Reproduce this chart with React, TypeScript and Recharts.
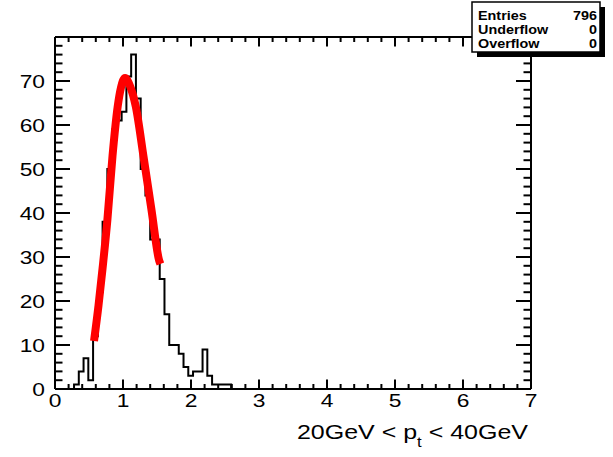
import React from "react";
import { LineChart, Line, XAxis, YAxis } from "recharts";

// histogram: 100 bins on [0, 7], only the filled range is listed
const binStart = 0.28;
const binWidth = 0.07;
const counts = [1, 4, 7, 2, 12, 22, 38, 50, 59, 61, 63, 71, 76, 66, 50, 44, 34, 34, 25, 17, 10, 10, 8, 5, 3, 4, 4, 9, 3, 1, 1, 1, 1];

// fitted curve
const fitX = [0.574, 0.64, 0.7, 0.77, 0.846, 0.922, 0.97, 1.03, 1.1, 1.188, 1.3, 1.42, 1.53, 1.55];
const fitY = [10.9, 19, 27.5, 38.4, 53, 64.2, 68.5, 70.7, 69, 64.2, 53, 40.6, 29.3, 28.4];

const xMajor = [0, 1, 2, 3, 4, 5, 6, 7];
const yMajor = [0, 10, 20, 30, 40, 50, 60, 70];

const statsRows = [
    ["Entries", "796"],
    ["Underflow", "0"],
    ["Overflow", "0"],
];

const W = 613;
const H = 457;
const FONT = "'Liberation Sans', Arial, Helvetica, sans-serif";
const SX = 1.2;

const xTicks: number[] = [];
for (let i = 0; i <= 35; i++) xTicks.push(+(i * 0.2).toFixed(2));
const yTicks: number[] = [];
for (let i = 0; i <= 39; i++) yTicks.push(i * 2);

const histData = [
    { x: 0, y: 0 },
    ...counts.map((c, i) => ({ x: +(binStart + i * binWidth).toFixed(2), y: c })),
    { x: +(binStart + counts.length * binWidth).toFixed(2), y: 0 },
    { x: 7, y: 0 },
];
const fitData = fitX.map((x, i) => ({ x, y: fitY[i] }));

const isMajor = (v: number, list: number[]) => list.some(m => Math.abs(m - v) < 1e-6);

const BottomTick = (props: any) => {
    const { x, y, payload } = props;
    const major = isMajor(payload.value, xMajor);
    return (
        <g>
            <line x1={x} x2={x} y1={y} y2={y - (major ? 9.5 : 5)} stroke="#000" strokeWidth={2} />
            {major && (
                <text transform={`translate(${x},${y + 5}) scale(${SX},1)`} textAnchor="middle" dy="0.71em"
                    fontSize={19} fontFamily={FONT} fill="#000">
                    {payload.value}
                </text>
            )}
        </g>
    );
};

const TopTick = (props: any) => {
    const { x, y, payload } = props;
    const major = isMajor(payload.value, xMajor);
    return <line x1={x} x2={x} y1={y} y2={y + (major ? 9.5 : 5)} stroke="#000" strokeWidth={2} />;
};

const LeftTick = (props: any) => {
    const { x, y, payload } = props;
    const major = isMajor(payload.value, yMajor);
    return (
        <g>
            <line x1={x} x2={x + (major ? 15 : 7.5)} y1={y} y2={y} stroke="#000" strokeWidth={2} />
            {major && (
                <text transform={`translate(${x - 10},${y}) scale(${SX},1)`} textAnchor="end" dy="0.355em"
                    fontSize={19} fontFamily={FONT} fill="#000">
                    {payload.value}
                </text>
            )}
        </g>
    );
};

const RightTick = (props: any) => {
    const { x, y, payload } = props;
    const major = isMajor(payload.value, yMajor);
    return <line x1={x} x2={x - (major ? 15 : 7.5)} y1={y} y2={y} stroke="#000" strokeWidth={2} />;
};

const Overlay = () => (
    <svg width={W} height={H} style={{ position: "absolute", left: 0, top: 0, pointerEvents: "none" }}>
        {/* stats box with shadow */}
        <rect x={477} y={7} width={128} height={50} fill="#000" />
        <rect x={472} y={2} width={128} height={50} fill="#fff" stroke="#000" strokeWidth={1.5} />
        {statsRows.map((r, i) => (
            <g key={r[0]}>
                <text transform={`translate(478,${19.5 + i * 14.2}) scale(1.15,1)`} fontSize={12.5} fontWeight="bold"
                    fontFamily={FONT}>
                    {r[0]}
                </text>
                <text transform={`translate(597,${19.5 + i * 14.2}) scale(1.15,1)`} fontSize={12.5} fontWeight="bold"
                    textAnchor="end" fontFamily={FONT}>
                    {r[1]}
                </text>
            </g>
        ))}
        {/* axis title */}
        <text transform={`translate(528,439) scale(1.19,1)`} textAnchor="end" fontSize={21} fontFamily={FONT}>
            20GeV &lt; p
            <tspan dy={8} fontSize={14}>t</tspan>
            <tspan dy={-8} fontSize={21}> &lt; 40GeV</tspan>
        </text>
    </svg>
);

export default function App() {
    return (
        <div style={{ position: "absolute", left: 0, top: 0, width: W, height: H, background: "#fff" }}>
            <LineChart width={W} height={H} margin={{ top: 27, right: 72, bottom: 38, left: 10 }}>
                <XAxis xAxisId="b" type="number" dataKey="x" domain={[0, 7]} ticks={xTicks} interval={0}
                    orientation="bottom" height={30} tickSize={0} tickMargin={0} tickLine={false}
                    axisLine={{ stroke: "#000", strokeWidth: 2 }} tick={BottomTick} allowDataOverflow />
                <XAxis xAxisId="t" type="number" dataKey="x" domain={[0, 7]} ticks={xTicks} interval={0}
                    orientation="top" height={10} tickSize={0} tickMargin={0} tickLine={false}
                    axisLine={{ stroke: "#000", strokeWidth: 2 }} tick={TopTick} allowDataOverflow />
                <YAxis yAxisId="l" type="number" domain={[0, 80]} ticks={yTicks} interval={0}
                    orientation="left" width={45} tickSize={0} tickMargin={0} tickLine={false}
                    axisLine={{ stroke: "#000", strokeWidth: 2 }} tick={LeftTick} allowDataOverflow />
                <YAxis yAxisId="r" type="number" domain={[0, 80]} ticks={yTicks} interval={0}
                    orientation="right" width={10} tickSize={0} tickMargin={0} tickLine={false}
                    axisLine={{ stroke: "#000", strokeWidth: 2 }} tick={RightTick} allowDataOverflow />
                <Line xAxisId="b" yAxisId="l" data={histData} dataKey="y" type="stepAfter" stroke="#000"
                    strokeWidth={2} dot={false} isAnimationActive={false} />
                <Line xAxisId="b" yAxisId="l" data={fitData} dataKey="y" type="monotone" stroke="#ff0000"
                    strokeWidth={8} dot={false} isAnimationActive={false} />
            </LineChart>
            <Overlay />
        </div>
    );
}
